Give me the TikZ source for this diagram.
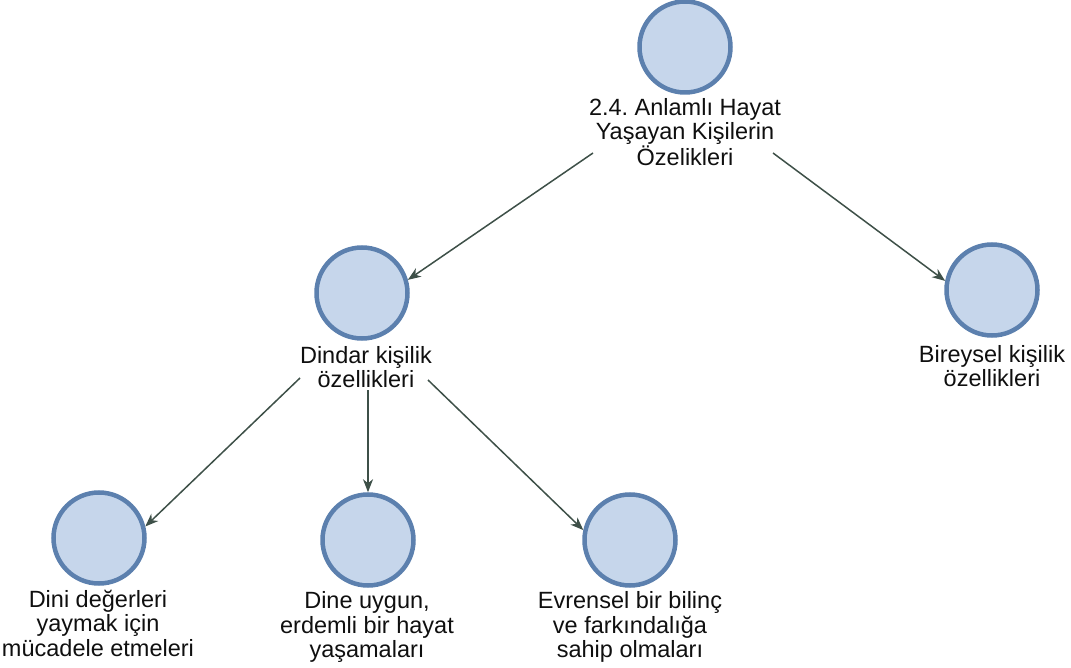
\documentclass[tikz,border=0pt]{standalone}
\usepackage{fontspec}
\setmainfont{Liberation Sans}
\usetikzlibrary{arrows.meta}
\definecolor{circfill}{RGB}{198,214,235}
\definecolor{circline}{RGB}{92,128,174}
\definecolor{arrcol}{RGB}{62,80,72}
\definecolor{txtcol}{RGB}{15,15,15}
\tikzset{
  bubble/.style={circle, minimum size=91pt, inner sep=0pt, fill=circfill, draw=circline, line width=4.5pt},
  lbl/.style={align=center, inner sep=0pt, text=txtcol, font=\fontsize{23.5pt}{24.5pt}\selectfont\frenchspacing},
  arr/.style={draw=arrcol, line width=1.5pt, -{Stealth[length=13pt,width=10pt,inset=4pt]}}
}
\begin{document}
\begin{tikzpicture}[x=1pt,y=-1pt]
\useasboundingbox (0,0) rectangle (1071,668);
% circles
\node[bubble] (c0) at (685,47) {};
\node[bubble] (c1) at (362,293) {};
\node[bubble] (c2) at (992,290) {};
\node[bubble] (c3) at (99,538) {};
\node[bubble] (c4) at (368,540) {};
\node[bubble] (c5) at (630,540) {};
% labels
\node[lbl] (l0) at (685,132) {2.4. Anlamlı Hayat\\Yaşayan Kişilerin\\Özelikleri};
\node[lbl] (l1) at (366,367) {Dindar kişilik\\özellikleri};
\node[lbl] (l2) at (992,366) {Bireysel kişilik\\özellikleri};
\node[lbl] (l3) at (98,623) {Dini değerleri\\yaymak için\\mücadele etmeleri};
\node[lbl] (l4) at (367,627) {Dine uygun,\\erdemli bir hayat\\yaşamaları};
\node[lbl] (l5) at (630,627) {Evrensel bir bilinç\\ve farkındalığa\\sahip olmaları};
% connector start points beside the labels
\coordinate (s1) at (593,153);
\coordinate (s2) at (773,153);
\coordinate (s3) at (300,378);
\coordinate (s4) at (368,390);
\coordinate (s5) at (428,380);
% connectors
\draw[arr] (s1) -- (c1.16.8);
\draw[arr] (s2) -- (c2.169.6);
\draw[arr] (s3) -- (c3.14.9);
\draw[arr] (s4) -- (c4.north);
\draw[arr] (s5) -- (c5.168);
\end{tikzpicture}
\end{document}
